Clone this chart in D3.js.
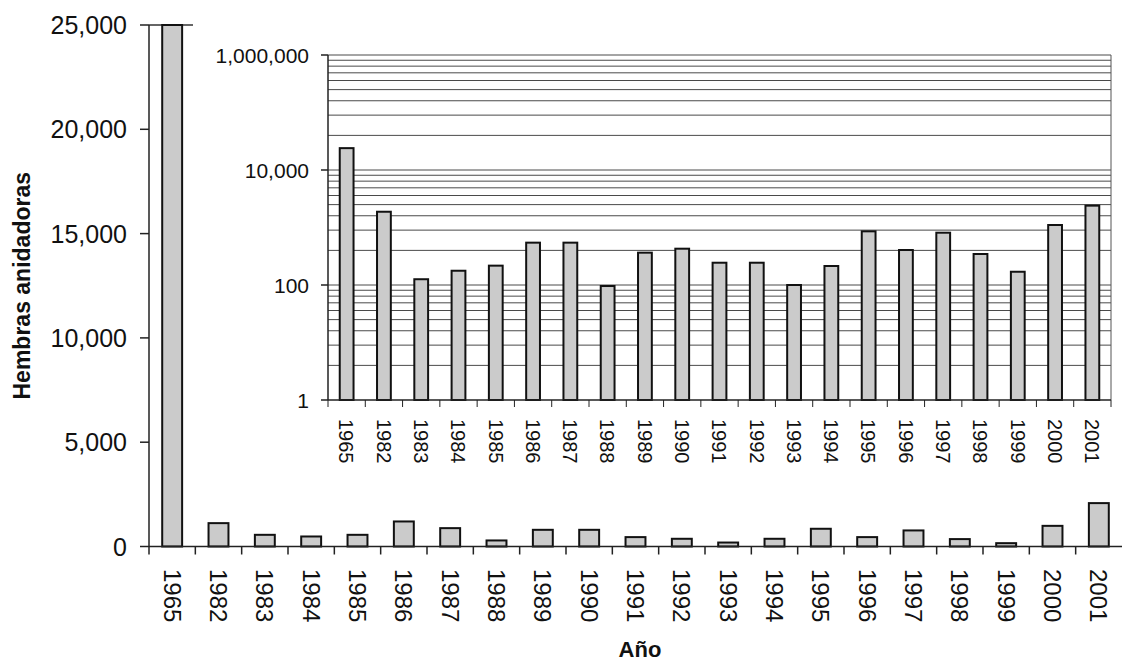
<!DOCTYPE html>
<html>
<head>
<meta charset="utf-8">
<script src="https://cdn.jsdelivr.net/npm/d3@7"></script>
<style>
  body { margin: 0; background: #fff; }
  text { font-family: "Liberation Sans", Arial, sans-serif; fill: #111; }
</style>
</head>
<body>
<script>
// years shown on both panels
var years = ['1965','1982','1983','1984','1985','1986','1987','1988','1989','1990',
             '1991','1992','1993','1994','1995','1996','1997','1998','1999','2000','2001'];
var mainValues = [25000,1120,560,480,560,1200,880,290,800,800,
                  450,370,190,370,850,450,770,355,160,990,2080];
// nesting females
var insetValues = [24000,1880,126,177,217,545,545,96,365,428,
                   244,244,100,214,858,406,812,346,170,1105,2400];
var mainTicks = [0,5000,10000,15000,20000,25000];
var insetMajor = [1,100,10000,1000000];
var insetBases = [1,100,10000];
var insetSquares = [4,9,16,25,36,49,64,81];

var W = 1122, H = 661;
var svg = d3.select('body').append('svg')
    .attr('width', W).attr('height', H);
svg.append('rect').attr('width', W).attr('height', H).attr('fill', '#fff');

var fmt = d3.format(',');

// ---------- main panel ----------
var x = d3.scaleBand().domain(years).range([149, 1122]).padding(0);
var y = d3.scaleLinear().domain([0, 25000]).range([546.5, 25]);
var main = svg.append('g');

// plot area top border (mostly hidden under the inset)
main.append('line')
    .attr('x1', 149).attr('x2', W)
    .attr('y1', y(25000)).attr('y2', y(25000))
    .attr('stroke', '#333').attr('stroke-width', 1.5);

var bw = x.bandwidth() * 0.43;
main.selectAll('rect.bar')
    .data(mainValues)
    .enter().append('rect')
    .attr('class', 'bar')
    .attr('x', function(d, i) { return x(years[i]) + (x.bandwidth() - bw) / 2; })
    .attr('y', function(d) { return y(d); })
    .attr('width', bw)
    .attr('height', function(d) { return y(0) - y(d); })
    .attr('fill', '#cbcbcb')
    .attr('stroke', '#111')
    .attr('stroke-width', 2);

// axes
main.append('line')
    .attr('x1', 149).attr('x2', 149)
    .attr('y1', y(25000)).attr('y2', y(0) + 8)
    .attr('stroke', '#222').attr('stroke-width', 1.5);
main.append('line')
    .attr('x1', 149).attr('x2', W)
    .attr('y1', y(0)).attr('y2', y(0))
    .attr('stroke', '#222').attr('stroke-width', 1.5);

main.selectAll('line.ytick')
    .data(mainTicks)
    .enter().append('line')
    .attr('x1', 140).attr('x2', 149)
    .attr('y1', function(d) { return y(d); })
    .attr('y2', function(d) { return y(d); })
    .attr('stroke', '#222').attr('stroke-width', 1.5);
main.selectAll('text.ylab')
    .data(mainTicks)
    .enter().append('text')
    .attr('x', 127)
    .attr('y', function(d) { return y(d); })
    .attr('dy', '0.36em')
    .attr('text-anchor', 'end')
    .style('font-size', '25px')
    .text(function(d) { return fmt(d); });

main.selectAll('line.xtick')
    .data(years.slice(1))
    .enter().append('line')
    .attr('x1', function(d) { return x(d); })
    .attr('x2', function(d) { return x(d); })
    .attr('y1', y(0)).attr('y2', y(0) + 8)
    .attr('stroke', '#222').attr('stroke-width', 1.5);
main.selectAll('text.xlab')
    .data(years)
    .enter().append('text')
    .attr('transform', function(d) {
      return 'translate(' + (x(d) + x.bandwidth() / 2) + ',569) rotate(90)';
    })
    .attr('dy', '0.36em')
    .style('font-size', '24px')
    .text(function(d) { return d; });

// axis titles
svg.append('text')
    .attr('transform', 'translate(30,' + ((y(0) + y(25000)) / 2) + ') rotate(-90)')
    .attr('text-anchor', 'middle')
    .style('font-size', '23px').style('font-weight', 'bold')
    .text('Hembras anidadoras');
svg.append('text')
    .attr('x', 640).attr('y', 657)
    .attr('text-anchor', 'middle')
    .style('font-size', '22px').style('font-weight', 'bold')
    .text('Año');

// ---------- inset (log scale) ----------
var inset = svg.append('g');
inset.append('rect')
    .attr('x', 193).attr('y', 20)
    .attr('width', W - 193).attr('height', 457)
    .attr('fill', '#fff');

var xi = d3.scaleBand().domain(years).range([328, 1111]).padding(0);
var yi = d3.scaleLog().domain([1, 1000000]).range([400, 55]);

// minor gridlines: base * k^2 (Excel base-100 log axis)
var minor = [];
insetBases.forEach(function(b) {
  insetSquares.forEach(function(s) { minor.push(b * s); });
});
inset.selectAll('line.grid')
    .data(minor.concat(insetMajor.slice(1)))
    .enter().append('line')
    .attr('x1', 328).attr('x2', 1111)
    .attr('y1', function(d) { return yi(d); })
    .attr('y2', function(d) { return yi(d); })
    .attr('stroke', '#4a4a4a').attr('stroke-width', 1);

// right border
inset.append('line')
    .attr('x1', 1111).attr('x2', 1111)
    .attr('y1', yi(1000000)).attr('y2', yi(1))
    .attr('stroke', '#555').attr('stroke-width', 1);

var bwi = xi.bandwidth() * 0.37;
inset.selectAll('rect.bar')
    .data(insetValues)
    .enter().append('rect')
    .attr('class', 'bar')
    .attr('x', function(d, i) { return xi(years[i]) + (xi.bandwidth() - bwi) / 2; })
    .attr('y', function(d) { return yi(d); })
    .attr('width', bwi)
    .attr('height', function(d) { return yi(1) - yi(d); })
    .attr('fill', '#cbcbcb')
    .attr('stroke', '#111')
    .attr('stroke-width', 2);

inset.append('line')
    .attr('x1', 328).attr('x2', 328)
    .attr('y1', yi(1000000)).attr('y2', yi(1))
    .attr('stroke', '#222').attr('stroke-width', 1.5);
inset.append('line')
    .attr('x1', 328).attr('x2', 1111)
    .attr('y1', yi(1)).attr('y2', yi(1))
    .attr('stroke', '#222').attr('stroke-width', 1.5);

inset.selectAll('line.ytick')
    .data(insetMajor)
    .enter().append('line')
    .attr('x1', 321).attr('x2', 328)
    .attr('y1', function(d) { return yi(d); })
    .attr('y2', function(d) { return yi(d); })
    .attr('stroke', '#222').attr('stroke-width', 1.5);
inset.selectAll('text.ylab')
    .data(insetMajor)
    .enter().append('text')
    .attr('x', 309)
    .attr('y', function(d) { return yi(d); })
    .attr('dy', '0.36em')
    .attr('text-anchor', 'end')
    .style('font-size', '21px')
    .text(function(d) { return fmt(d); });

inset.selectAll('line.xtick')
    .data(years.concat(['end']))
    .enter().append('line')
    .attr('x1', function(d, i) { return 328 + i * xi.step(); })
    .attr('x2', function(d, i) { return 328 + i * xi.step(); })
    .attr('y1', yi(1)).attr('y2', yi(1) + 7)
    .attr('stroke', '#222').attr('stroke-width', 1);
inset.selectAll('text.xlab')
    .data(years)
    .enter().append('text')
    .attr('transform', function(d) {
      return 'translate(' + (xi(d) + xi.bandwidth() / 2) + ',419) rotate(90)';
    })
    .attr('dy', '0.36em')
    .style('font-size', '20px')
    .text(function(d) { return d; });
</script>
</body>
</html>
